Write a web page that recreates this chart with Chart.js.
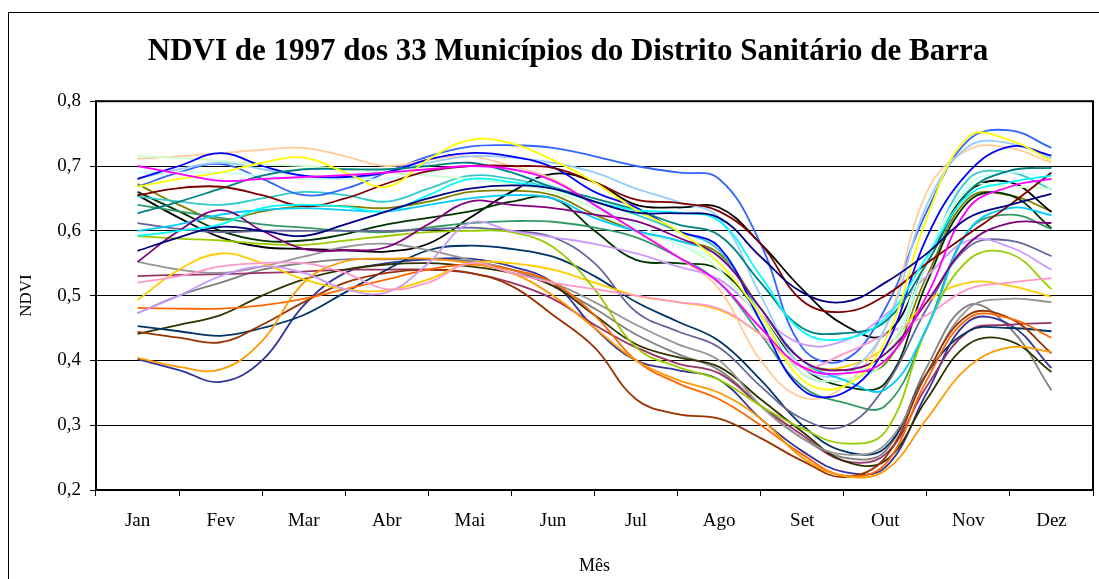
<!DOCTYPE html>
<html>
<head>
<meta charset="utf-8">
<title>NDVI de 1997</title>
<script src="https://cdn.jsdelivr.net/npm/chart.js@4.4.1/dist/chart.umd.min.js"></script>
<style>
  html, body { margin: 0; padding: 0; background: #fff; overflow: hidden; }
  .frame { position: absolute; left: 8px; top: 12px; width: 1200px; height: 700px; border: 1px solid #000; }
  #chart { position: absolute; left: 0; top: 0; }
</style>
</head>
<body>
<div class="frame"></div>
<canvas id="chart" width="1136" height="579"></canvas>
<script>
const months = ["Jan", "Fev", "Mar", "Abr", "Mai", "Jun", "Jul", "Ago", "Set", "Out", "Nov", "Dez"];
// sample positions (half-month steps, in month units)
const samples = [0, 0.5, 1, 1.5, 2, 2.5, 3, 3.5, 4, 4.5, 5, 5.5, 6, 6.5, 7, 7.5, 8, 8.5, 9, 9.5, 10, 10.5, 11];
const yTicks = [0.2, 0.3, 0.4, 0.5, 0.6, 0.7, 0.8];

const serie01 = [0.569, 0.59, 0.606, 0.60, 0.592, 0.61, 0.63, 0.65, 0.665, 0.67, 0.665, 0.645, 0.628, 0.627, 0.62, 0.56, 0.505, 0.49, 0.52, 0.565, 0.62, 0.64, 0.657];
const serie02 = [0.70, 0.688, 0.677, 0.68, 0.683, 0.686, 0.69, 0.695, 0.70, 0.695, 0.677, 0.64, 0.60, 0.56, 0.52, 0.45, 0.39, 0.38, 0.40, 0.50, 0.635, 0.668, 0.68];
const serie03 = [0.668, 0.68, 0.69, 0.705, 0.713, 0.69, 0.668, 0.71, 0.74, 0.735, 0.709, 0.675, 0.632, 0.60, 0.55, 0.47, 0.37, 0.36, 0.43, 0.62, 0.745, 0.74, 0.708];
const serie04 = [0.592, 0.60, 0.61, 0.635, 0.64, 0.637, 0.63, 0.655, 0.68, 0.675, 0.665, 0.645, 0.632, 0.628, 0.615, 0.53, 0.445, 0.433, 0.465, 0.56, 0.655, 0.675, 0.685];
const serie05 = [0.552, 0.60, 0.632, 0.60, 0.572, 0.57, 0.575, 0.61, 0.645, 0.64, 0.635, 0.625, 0.615, 0.59, 0.56, 0.48, 0.40, 0.385, 0.41, 0.49, 0.58, 0.612, 0.612];
const serie06 = [0.655, 0.666, 0.668, 0.655, 0.638, 0.65, 0.673, 0.692, 0.70, 0.70, 0.697, 0.675, 0.648, 0.643, 0.63, 0.58, 0.492, 0.475, 0.50, 0.55, 0.595, 0.64, 0.69];
const serie07 = [0.627, 0.645, 0.665, 0.685, 0.695, 0.695, 0.695, 0.70, 0.705, 0.69, 0.667, 0.65, 0.632, 0.61, 0.593, 0.52, 0.45, 0.442, 0.46, 0.55, 0.66, 0.693, 0.697];
const serie08 = [0.68, 0.70, 0.72, 0.70, 0.685, 0.683, 0.69, 0.71, 0.72, 0.715, 0.698, 0.66, 0.636, 0.60, 0.575, 0.46, 0.355, 0.35, 0.42, 0.59, 0.69, 0.73, 0.716];
const serie09 = [0.60, 0.61, 0.625, 0.632, 0.635, 0.632, 0.63, 0.64, 0.65, 0.655, 0.65, 0.62, 0.60, 0.585, 0.56, 0.48, 0.40, 0.37, 0.355, 0.45, 0.60, 0.635, 0.624];
const serie10 = [0.69, 0.69, 0.69, 0.685, 0.68, 0.68, 0.68, 0.69, 0.70, 0.69, 0.67, 0.64, 0.61, 0.58, 0.55, 0.47, 0.39, 0.38, 0.41, 0.56, 0.67, 0.69, 0.68];
const serie11 = [0.715, 0.712, 0.708, 0.703, 0.70, 0.695, 0.69, 0.685, 0.68, 0.672, 0.66, 0.635, 0.60, 0.58, 0.54, 0.46, 0.38, 0.37, 0.40, 0.55, 0.665, 0.668, 0.665];
const serie12 = [0.68, 0.695, 0.705, 0.695, 0.685, 0.68, 0.69, 0.705, 0.715, 0.713, 0.705, 0.69, 0.665, 0.645, 0.62, 0.50, 0.39, 0.38, 0.45, 0.64, 0.73, 0.735, 0.712];
const serie13 = [0.52, 0.53, 0.545, 0.55, 0.55, 0.535, 0.51, 0.52, 0.55, 0.535, 0.52, 0.51, 0.50, 0.49, 0.48, 0.44, 0.39, 0.41, 0.44, 0.47, 0.51, 0.52, 0.527];
const serie14 = [0.473, 0.50, 0.53, 0.545, 0.535, 0.51, 0.505, 0.55, 0.612, 0.60, 0.59, 0.58, 0.565, 0.545, 0.525, 0.47, 0.425, 0.43, 0.47, 0.53, 0.585, 0.575, 0.54];
const serie15 = [0.711, 0.715, 0.72, 0.725, 0.728, 0.715, 0.70, 0.71, 0.715, 0.70, 0.68, 0.64, 0.60, 0.56, 0.51, 0.40, 0.343, 0.36, 0.45, 0.66, 0.725, 0.728, 0.705];
const serie16 = [0.668, 0.69, 0.703, 0.68, 0.655, 0.665, 0.69, 0.715, 0.73, 0.732, 0.728, 0.715, 0.70, 0.69, 0.68, 0.58, 0.42, 0.40, 0.48, 0.63, 0.74, 0.755, 0.728];
const serie17 = [0.653, 0.645, 0.64, 0.65, 0.66, 0.655, 0.645, 0.665, 0.685, 0.68, 0.665, 0.645, 0.625, 0.60, 0.57, 0.47, 0.38, 0.37, 0.40, 0.55, 0.68, 0.69, 0.664];
const serie18 = [0.592, 0.588, 0.585, 0.58, 0.578, 0.585, 0.592, 0.598, 0.60, 0.598, 0.575, 0.51, 0.42, 0.39, 0.37, 0.33, 0.295, 0.272, 0.29, 0.45, 0.555, 0.565, 0.51];
const serie19 = [0.493, 0.54, 0.565, 0.55, 0.525, 0.51, 0.508, 0.525, 0.55, 0.55, 0.54, 0.52, 0.50, 0.49, 0.478, 0.44, 0.39, 0.39, 0.42, 0.49, 0.52, 0.515, 0.498];
const serie20 = [0.404, 0.39, 0.386, 0.43, 0.52, 0.553, 0.557, 0.557, 0.55, 0.535, 0.50, 0.45, 0.40, 0.37, 0.35, 0.31, 0.25, 0.222, 0.23, 0.31, 0.39, 0.42, 0.413];
const serie21 = [0.481, 0.48, 0.48, 0.485, 0.495, 0.51, 0.525, 0.54, 0.548, 0.54, 0.52, 0.47, 0.40, 0.365, 0.34, 0.30, 0.255, 0.222, 0.24, 0.37, 0.465, 0.465, 0.435];
const serie22 = [0.444, 0.435, 0.428, 0.455, 0.49, 0.52, 0.535, 0.54, 0.535, 0.515, 0.47, 0.42, 0.34, 0.317, 0.31, 0.28, 0.245, 0.22, 0.25, 0.38, 0.47, 0.465, 0.411];
const serie23 = [0.612, 0.603, 0.598, 0.60, 0.60, 0.60, 0.60, 0.602, 0.605, 0.60, 0.59, 0.55, 0.475, 0.445, 0.42, 0.36, 0.31, 0.298, 0.36, 0.48, 0.575, 0.585, 0.561];
const serie24 = [0.552, 0.54, 0.535, 0.545, 0.56, 0.575, 0.58, 0.57, 0.555, 0.54, 0.52, 0.49, 0.455, 0.425, 0.40, 0.33, 0.28, 0.255, 0.27, 0.38, 0.48, 0.495, 0.49];
const serie25 = [0.453, 0.445, 0.438, 0.45, 0.47, 0.505, 0.54, 0.57, 0.577, 0.572, 0.56, 0.53, 0.49, 0.46, 0.43, 0.37, 0.30, 0.26, 0.265, 0.38, 0.445, 0.45, 0.445];
const serie26 = [0.64, 0.63, 0.62, 0.61, 0.605, 0.60, 0.598, 0.605, 0.612, 0.615, 0.614, 0.605, 0.59, 0.56, 0.52, 0.44, 0.36, 0.335, 0.33, 0.45, 0.60, 0.625, 0.603];
const serie27 = [0.66, 0.63, 0.60, 0.585, 0.585, 0.595, 0.61, 0.62, 0.63, 0.645, 0.65, 0.60, 0.555, 0.55, 0.54, 0.47, 0.39, 0.36, 0.365, 0.52, 0.645, 0.655, 0.604];
const serie28 = [0.441, 0.455, 0.47, 0.50, 0.525, 0.54, 0.548, 0.55, 0.545, 0.535, 0.515, 0.47, 0.425, 0.405, 0.39, 0.34, 0.29, 0.245, 0.245, 0.34, 0.425, 0.43, 0.382];
const serie29 = [0.53, 0.532, 0.533, 0.535, 0.537, 0.54, 0.54, 0.54, 0.535, 0.52, 0.495, 0.455, 0.42, 0.395, 0.38, 0.33, 0.285, 0.245, 0.255, 0.36, 0.445, 0.455, 0.458];
const serie30 = [0.402, 0.385, 0.367, 0.40, 0.485, 0.535, 0.55, 0.556, 0.557, 0.545, 0.52, 0.45, 0.40, 0.385, 0.37, 0.31, 0.26, 0.228, 0.235, 0.35, 0.46, 0.455, 0.388];
const serie31 = [0.655, 0.62, 0.59, 0.575, 0.572, 0.57, 0.568, 0.58, 0.62, 0.66, 0.688, 0.675, 0.64, 0.636, 0.636, 0.58, 0.51, 0.455, 0.44, 0.55, 0.66, 0.675, 0.629];
const serie32 = [0.672, 0.64, 0.617, 0.63, 0.638, 0.638, 0.635, 0.645, 0.66, 0.662, 0.655, 0.625, 0.60, 0.585, 0.565, 0.48, 0.40, 0.385, 0.395, 0.53, 0.65, 0.655, 0.63];
const serie33 = [0.473, 0.50, 0.52, 0.54, 0.55, 0.556, 0.556, 0.556, 0.553, 0.54, 0.515, 0.48, 0.44, 0.41, 0.385, 0.33, 0.28, 0.25, 0.26, 0.39, 0.485, 0.45, 0.354];

const allSeries = [serie01, serie02, serie03, serie04, serie05, serie06, serie07, serie08, serie09, serie10,
  serie11, serie12, serie13, serie14, serie15, serie16, serie17, serie18, serie19, serie20,
  serie21, serie22, serie23, serie24, serie25, serie26, serie27, serie28, serie29, serie30,
  serie31, serie32, serie33];
const lineColors = ["#000080", "#FF00FF", "#FFFF00", "#00FFFF", "#800080", "#800000", "#008080", "#0000FF", "#00CCFF", "#CCFFFF",
  "#CCFFCC", "#99CCFF", "#FF99CC", "#CC99FF", "#FFCC99", "#3366FF", "#33CCCC", "#99CC00", "#FFCC00", "#FF9900",
  "#FF6600", "#993300", "#666699", "#969696", "#003366", "#339966", "#003300", "#333300", "#993366", "#333399",
  "#000000", "#808000", "#808080"];

const datasets = allSeries.map((vals, i) => ({
  label: "Município " + (i + 1),
  data: vals.map((v, k) => ({ x: samples[k], y: v })),
  borderColor: lineColors[i],
  backgroundColor: lineColors[i],
  borderWidth: 1.8,
  pointRadius: 0,
  tension: 0.4,
  fill: false
}));

const serif = "'Liberation Serif', 'Times New Roman', serif";

const frameArea = {
  id: "frameArea",
  afterDraw(chart) {
    const a = chart.chartArea, c = chart.ctx;
    c.save();
    c.strokeStyle = "#000";
    c.lineWidth = 2;
    c.strokeRect(a.left, a.top, a.right - a.left, a.bottom - a.top);
    c.restore();
  }
};

new Chart(document.getElementById("chart"), {
  type: "line",
  data: { datasets },
  plugins: [frameArea],
  options: {
    responsive: false,
    animation: false,
    layout: { padding: 0 },
    plugins: {
      legend: { display: false },
      tooltip: { enabled: false },
      title: {
        display: true,
        text: "NDVI de 1997 dos 33 Municípios do Distrito Sanitário de Barra",
        color: "#000",
        font: { family: serif, size: 31, weight: "bold", lineHeight: 1.2 },
        padding: { top: 33, bottom: 31 }
      }
    },
    scales: {
      x: {
        type: "linear",
        min: -0.5,
        max: 11.5,
        display: false
      },
      xm: {
        type: "category",
        labels: months,
        position: "bottom",
        offset: true,
        afterFit(s) { s.height = 89; },
        grid: { offset: true, drawOnChartArea: false, tickLength: 6, color: "#000", lineWidth: 1 },
        border: { display: true, color: "#000", width: 2 },
        ticks: { color: "#000", font: { family: serif, size: 19 }, padding: 14, maxRotation: 0 },
        title: { display: true, text: "Mês", color: "#000", font: { family: serif, size: 18 }, padding: { top: 4, bottom: 2 } }
      },
      y: {
        min: 0.2,
        max: 0.8,
        afterFit(s) { s.width = 96; },
        afterBuildTicks(s) { s.ticks = yTicks.map(v => ({ value: v })); },
        grid: { color: "#000", lineWidth: 1, tickLength: 6 },
        border: { display: true, color: "#000", width: 2 },
        ticks: {
          color: "#000",
          font: { family: serif, size: 19 },
          padding: 9,
          callback: v => Number(v).toFixed(1).replace(".", ",")
        },
        title: { display: true, text: "NDVI", color: "#000", font: { family: serif, size: 17 }, padding: { top: 16, bottom: 0 } }
      },
      yr: {
        type: "linear",
        position: "right",
        afterFit(s) { s.width = 43; },
        grid: { display: false },
        border: { display: false },
        ticks: { display: false }
      }
    }
  }
});
</script>
</body>
</html>
